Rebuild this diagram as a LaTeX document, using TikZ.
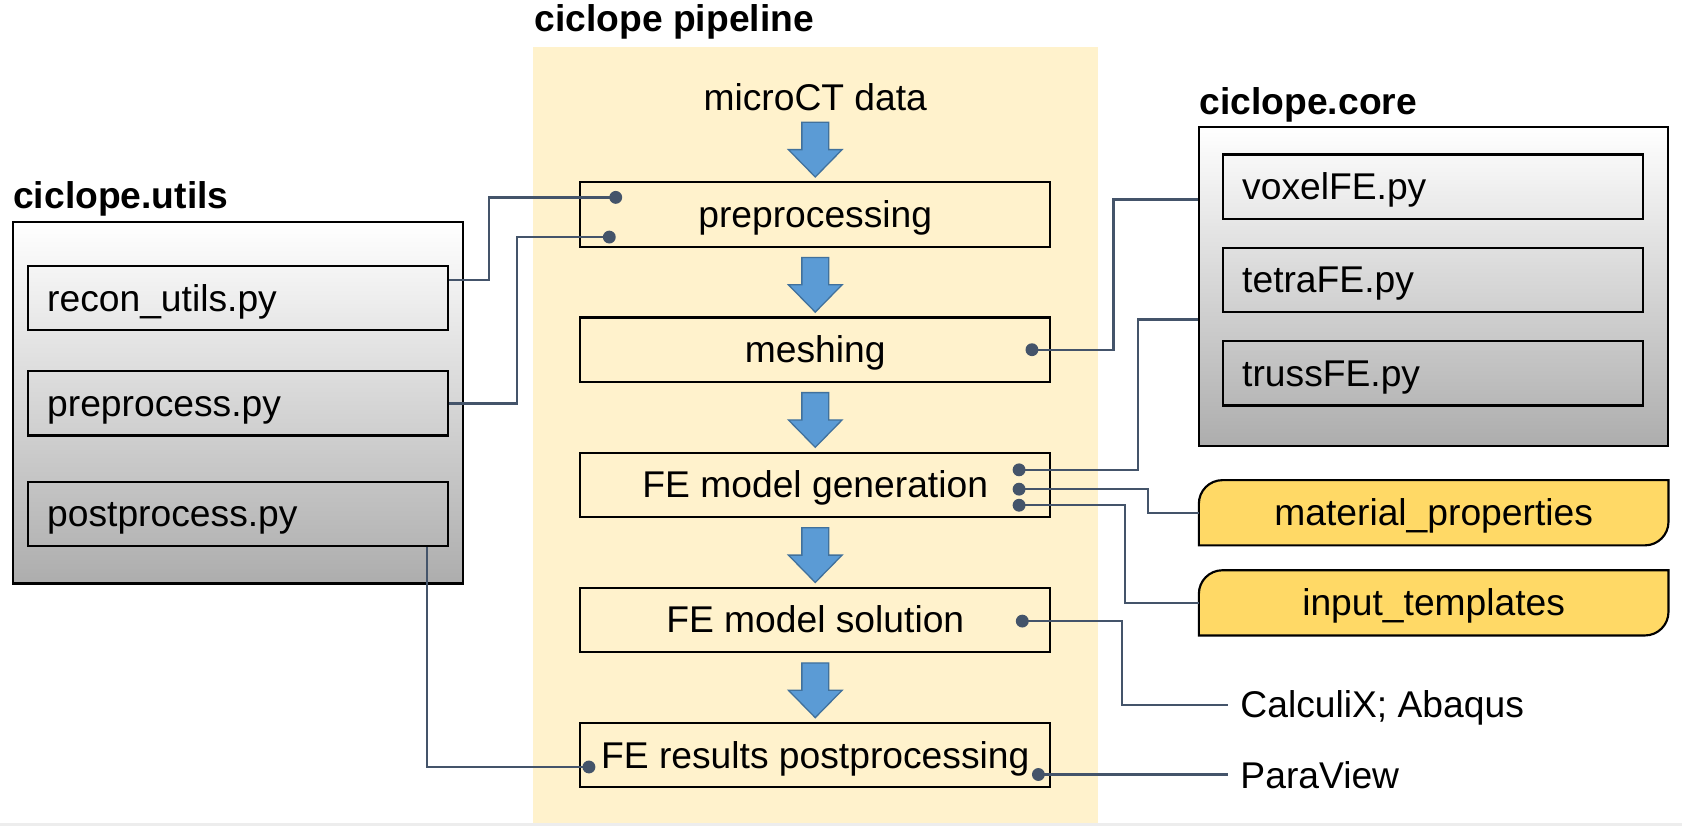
\documentclass[tikz,border=0pt]{standalone}
\usepackage{fontspec}
\setmainfont{Liberation Sans}
\usetikzlibrary{positioning,calc,backgrounds}
\definecolor{bandyellow}{HTML}{FFF2CC}
\definecolor{flagyellow}{HTML}{FFD966}
\definecolor{wire}{HTML}{44546A}
\definecolor{arrowblue}{HTML}{5B9BD5}
\definecolor{arrowedge}{HTML}{41719C}
\definecolor{groupgray}{HTML}{ADADAD}
\definecolor{stripgray}{HTML}{EDEDED}
\newcommand{\picfont}{\fontsize{17.35pt}{20pt}\selectfont}
\tikzstyle{Line} = [text height=15.7pt, text depth=3.7pt]
\tikzstyle{Block} = [draw, rectangle, Line, line width=1pt, minimum width=219pt, minimum height=30pt]
\tikzstyle{Module} = [draw, rectangle, Line, line width=1pt, text width=178pt, inner xsep=9pt, align=left, minimum height=30pt]
\tikzstyle{Group} = [draw, rectangle, line width=1pt, top color=white, bottom color=groupgray]
\tikzstyle{Flag} = [rectangle, Line, minimum width=218.5pt, minimum height=30pt]
\tikzstyle{Title} = [anchor=base west, inner sep=0pt, font=\picfont\bfseries]
\tikzstyle{Tool} = [anchor=west, Line, inner xsep=5.5pt]
\tikzstyle{Wire} = [draw=wire, line width=1.1pt]
\tikzstyle{Dot} = [circle, fill=wire, minimum size=6pt, inner sep=0pt]
\tikzstyle{BlueArrow} = [fill=arrowblue, draw=arrowedge, line width=0.6pt, line join=miter]

% block arrow pointing down, centred on #1
\newcommand{\pipearrow}[1]{\draw[BlueArrow] (#1) ++(-6.25pt,12.75pt) -- ++(12.5pt,0pt) -- ++(0pt,-12.75pt) -- ++(6.25pt,0pt) -- ++(-12.5pt,-12.75pt) -- ++(-12.5pt,12.75pt) -- ++(6.25pt,0pt) -- cycle;}
% box with rounded top left and bottom right corners
\newcommand{\flagshape}[1]{\draw[fill=flagyellow, line width=1pt] (#1.south west) -- ([yshift=-11pt]#1.north west) arc[start angle=180, end angle=90, radius=11pt] -- (#1.north east) -- ([yshift=11pt]#1.south east) arc[start angle=0, end angle=-90, radius=11pt] -- cycle;}

\begin{document}
\begin{tikzpicture}[x=0.5pt, y=-0.5pt, font=\picfont]
    \useasboundingbox (0,0) rectangle (1568,770);
    \fill[bandyellow] (497,44) rectangle (1024,767);
    \fill[stripgray] (0,767) rectangle (1568,770);

    % pipeline
    \node[Title] (pipeT) at (498,29) {ciclope pipeline};
    \node[Line] (micro) at (760,91) {microCT data};
    \node[Block] (prep) at (760,200)        {preprocessing};
    \node[Block] (mesh) [below=32pt of prep] {meshing};
    \node[Block] (gen)  [below=32pt of mesh] {FE model generation};
    \node[Block] (sol)  [below=32pt of gen]  {FE model solution};
    \node[Block] (post) [below=32pt of sol]  {FE results postprocessing};
    \foreach \b in {prep,mesh,gen,sol,post}
        \pipearrow{[yshift=14.75pt]\b.north};

    % ciclope.utils
    \node[Title] (utilsT) at (12,194) {ciclope.utils};
    \node[Group, minimum width=210pt, minimum height=168.5pt] (utils) at (222,375.5) {};
    \node[Module] (recon)    at (222,278) {recon\_utils.py};
    \node[Module] (prepfile) at (222,376) {preprocess.py};
    \node[Module] (postfile) at (222,479) {postprocess.py};

    % ciclope.core
    \node[Title] (coreT) at (1118,107) {ciclope.core};
    \node[Group, minimum width=218.5pt, minimum height=149pt] (core) at (1336.5,267) {};
    \node[Module] (voxel) at (1336,174) {voxelFE.py};
    \node[Module] (tetra) at (1336,261) {tetraFE.py};
    \node[Module] (truss) at (1336,348) {trussFE.py};

    % inputs and tools
    \node[Flag] (mat)  at (1336.5,478) {material\_properties};
    \node[Flag] (tmpl) at (1336.5,562) {input\_templates};
    \begin{scope}[on background layer]
        \flagshape{mat}
        \flagshape{tmpl}
    \end{scope}
    \node[Tool] (solver) at (1145,657) {CalculiX; Abaqus};
    \node[Tool] (viewer) at (1145,723) {ParaView};

    % dots
    \node[Dot] (dPrepA) at (574,184) {};
    \node[Dot] (dPrepB) at (568,221) {};
    \node[Dot] (dMesh)  at (962,326) {};
    \node[Dot] (dGenA)  at (950,438) {};
    \node[Dot] (dGenB)  at (950,456) {};
    \node[Dot] (dGenC)  at (950,471) {};
    \node[Dot] (dSol)   at (953,579) {};
    \node[Dot] (dPostA) at (549,715) {};
    \node[Dot] (dPostB) at (968,722) {};

    % connectors
    \draw[Wire] ([yshift=8.5pt]recon.east) -- ++(18.5pt,0pt) |- (dPrepA.center);
    \draw[Wire] (prepfile.east) -- ++(31.5pt,0pt) |- (dPrepB.center);
    \draw[Wire] ([xshift=-10.5pt]postfile.south east) |- (dPostA.center);
    \draw[Wire] (dMesh.center) -- ++(38pt,0pt) |- ([yshift=40.5pt]core.west);
    \draw[Wire] (dGenA.center) -- ++(55.5pt,0pt) |- ([yshift=-15.5pt]core.west);
    \draw[Wire] (dGenB.center) -- ++(60pt,0pt) |- (mat.west);
    \draw[Wire] (dGenC.center) -- ++(49.5pt,0pt) |- (tmpl.west);
    \draw[Wire] (dSol.center) -- ++(46.5pt,0pt) |- (solver.west);
    \draw[Wire] (dPostB.center) -- (dPostB.center -| viewer.west);
\end{tikzpicture}
\end{document}
